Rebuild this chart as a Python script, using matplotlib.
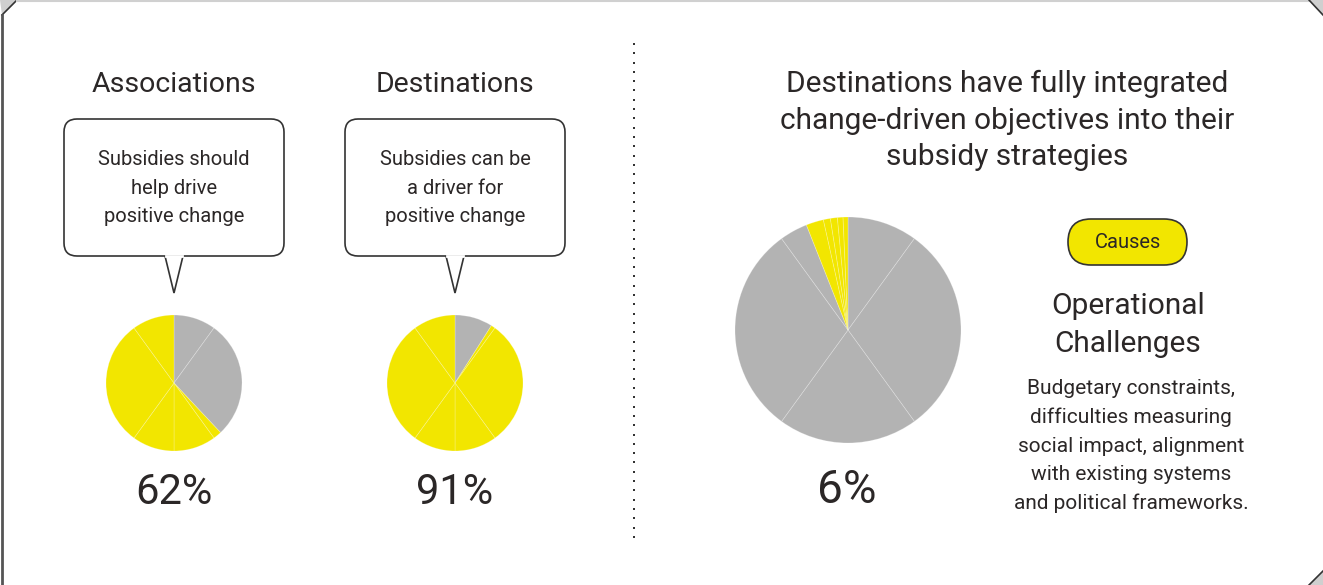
import matplotlib
matplotlib.use("Agg")
import matplotlib.pyplot as plt
from matplotlib.patches import FancyBboxPatch, Polygon
import numpy as np

plt.rcParams['font.family'] = ['Roboto', 'DejaVu Sans']

# ---- data ----
pie_titles = ["Associations", "Destinations"]
bubble_texts = ["Subsidies should\nhelp drive\npositive change",
                "Subsidies can be\na driver for\npositive change"]
shares = [62, 91, 6]          # yellow share, %
share_labels = ["62%", "91%", "6%"]
right_title = "Destinations have fully integrated\nchange-driven objectives into their\nsubsidy strategies"
pill_label = "Causes"
causes_title = "Operational\nChallenges"
causes_text = ("Budgetary constraints,\ndifficulties measuring\nsocial impact, alignment\n"
               "with existing systems\nand political frameworks.")

YELLOW = "#f2e600"
GRAY = "#b3b3b3"
TXT = "#2b2727"

W, H = 1323, 585
fig = plt.figure(figsize=(W / 100, H / 100), dpi=100)
bg = fig.add_axes([0, 0, 1, 1])
bg.set_xlim(0, W)
bg.set_ylim(H, 0)
bg.axis("off")

# frame
bg.add_patch(Polygon([[0, 0], [17, 0], [2, 15]], closed=True, color="#cfcfcf", lw=0))
bg.plot([17, 2], [0, 15], color="#333333", lw=1.2)
bg.plot([2, 2], [15, H], color="#555555", lw=2)
bg.plot([17, 1309], [0.5, 0.5], color="#d0d0d0", lw=1.5)
bg.add_patch(Polygon([[1309, 0], [W, 0], [W, 15]], closed=True, color="#cfcfcf", lw=0))
bg.plot([1309, W], [0, 15], color="#333333", lw=1.2)
bg.add_patch(Polygon([[1309, H], [W, H], [W, 571]], closed=True, color="#cfcfcf", lw=0))
bg.plot([1309, W], [H, 571], color="#333333", lw=1.2)

# dotted divider
ys = np.arange(44, 540, 9.3)
bg.scatter(np.full_like(ys, 634), ys, s=3, color="#333333", marker="s", lw=0)


def pie(cx, cy, r, share, divs):
    ax = fig.add_axes([(cx - r) / W, 1 - (cy + r) / H, 2 * r / W, 2 * r / H])
    g = (100 - share) / 100.0
    bounds = sorted(set([0.0, g, 1.0] + [d for d in divs]))
    sizes = np.diff(bounds)
    cols = [GRAY if (a + b) / 2 < g else YELLOW for a, b in zip(bounds[:-1], bounds[1:])]
    ax.pie(sizes, colors=cols, startangle=90, counterclock=False,
           wedgeprops=dict(edgecolor=(1, 1, 1, 0.25), linewidth=0.6))
    ax.set_xlim(-1, 1)
    ax.set_ylim(-1, 1)
    ax.set_aspect("equal")
    ax.axis("off")


# left panels
for i, (cx, title, btxt) in enumerate(zip([174, 455], pie_titles, bubble_texts)):
    bg.text(cx, 84, title, ha="center", va="center", fontsize=20.5, color=TXT)
    x0 = cx - 110
    bg.add_patch(FancyBboxPatch((x0, 119), 220, 137,
                                boxstyle="round,pad=0,rounding_size=13",
                                fc="white", ec="#333333", lw=1.2))
    bg.add_patch(Polygon([[cx - 9, 256], [cx, 293], [cx + 9, 256]], closed=False,
                         fc="white", ec="#333333", lw=1.2))
    bg.plot([cx - 8.3, cx + 8.3], [256, 256], color="white", lw=2)
    bg.text(cx, 188, btxt, ha="center", va="center", fontsize=14.5,
            color=TXT, linespacing=1.66)
    pie(cx, 383, 68, shares[i], [0.1, 0.4, 0.5, 0.6, 0.9])
    bg.text(cx, 493, share_labels[i], ha="center", va="center", fontsize=30, color=TXT)

# right panel
bg.text(1007, 120.5, right_title, ha="center", va="center", fontsize=21.5,
        color=TXT, linespacing=1.39)
pie(848, 330, 113, shares[2], [0.1, 0.4, 0.6, 0.9, 0.965, 0.975, 0.985, 0.993])
bg.text(847, 490, share_labels[2], ha="center", va="center", fontsize=33, color=TXT)

bg.add_patch(FancyBboxPatch((1068, 219), 119, 46,
                            boxstyle="round,pad=0,rounding_size=23",
                            fc=YELLOW, ec="#333333", lw=1.2))
bg.text(1127.5, 242, pill_label, ha="center", va="center", fontsize=14.5, color=TXT)
bg.text(1128, 325, causes_title, ha="center", va="center", fontsize=21.5,
        color=TXT, linespacing=1.41)
bg.text(1131, 446, causes_text, ha="center", va="center", fontsize=15,
        color=TXT, linespacing=1.63)

fig.savefig("out.png", dpi=100)
